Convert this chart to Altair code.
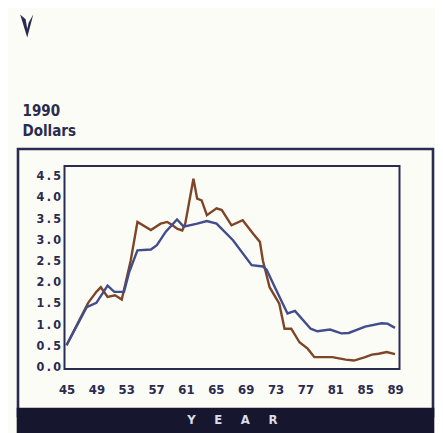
import altair as alt
import pandas as pd

# ---- data ----
brown_years = [45.0, 47.9, 49.0, 49.6, 50.5, 51.5, 52.4, 53.6, 54.5, 56.3, 57.6, 58.5, 59.2, 59.8,
               60.5, 60.9, 62.0, 62.5, 63.1, 63.8, 65.1, 65.8, 67.1, 68.6, 70.0, 70.9, 71.3, 72.2,
               73.5, 74.2, 75.1, 76.2, 77.3, 78.2, 80.6, 82.4, 83.5, 85.0, 85.9, 86.8, 87.9, 89.0]
brown_values = [0.50, 1.50, 1.76, 1.87, 1.64, 1.68, 1.58, 2.50, 3.41, 3.22, 3.37, 3.41, 3.33, 3.25,
                3.21, 3.37, 4.43, 3.96, 3.92, 3.57, 3.73, 3.69, 3.33, 3.45, 3.13, 2.94, 2.50, 1.87,
                1.48, 0.89, 0.89, 0.57, 0.42, 0.22, 0.22, 0.16, 0.14, 0.22, 0.28, 0.30, 0.34, 0.29]

blue_years = [45.0, 47.7, 49.0, 50.5, 51.4, 52.7, 53.4, 54.5, 56.3, 57.1, 58.3, 59.8, 60.7, 62.5,
              63.8, 65.1, 67.3, 69.8, 71.3, 71.8, 73.1, 74.6, 75.6, 77.7, 78.6, 80.3, 81.8, 82.8,
              85.0, 87.2, 88.0, 89.0]
blue_values = [0.50, 1.40, 1.50, 1.91, 1.76, 1.76, 2.23, 2.74, 2.76, 2.86, 3.18, 3.47, 3.30, 3.37,
               3.43, 3.37, 2.98, 2.39, 2.36, 2.28, 1.80, 1.25, 1.31, 0.89, 0.83, 0.87, 0.78, 0.79,
               0.94, 1.02, 1.01, 0.91]

x_ticks = [45, 49, 53, 57, 61, 65, 69, 73, 77, 81, 85, 89]
y_ticks = [0.0, 0.5, 1.0, 1.5, 2.0, 2.5, 3.0, 3.5, 4.0, 4.5]

series_names = ["brown", "blue"]
series_colors = ["#7e4529", "#414d8c"]

rows = [{"year": y, "value": v, "series": "brown", "ord": i} for i, (y, v) in enumerate(zip(brown_years, brown_values))]
rows += [{"year": y, "value": v, "series": "blue", "ord": i} for i, (y, v) in enumerate(zip(blue_years, blue_values))]
df = pd.DataFrame(rows)

NAVY = "#2a2b50"
one = pd.DataFrame({"a": [0]})

xscale = alt.Scale(domain=[44.73, 89.6], nice=False, zero=False)
yscale = alt.Scale(domain=[-0.06, 4.73], nice=False, zero=False)

lines = alt.Chart(df).mark_line(strokeWidth=2.4, clip=True).encode(
    x=alt.X("year:Q", scale=xscale,
            axis=alt.Axis(values=x_ticks, title=None, grid=False, domain=False, ticks=False,
                          labelFont="DejaVu Sans Condensed", labelFontWeight="bold",
                          labelFontSize=13, labelColor=NAVY, labelPadding=14.5,
                          labelFlush=False, labelOverlap=False)),
    y=alt.Y("value:Q", scale=yscale,
            axis=alt.Axis(values=y_ticks, title=None, grid=False, domain=False, ticks=False,
                          labelExpr="replace(format(datum.value, '.1f'), '.', '\u2009.\u2009')",
                          labelFont="DejaVu Sans Condensed", labelFontWeight="bold",
                          labelFontSize=12.5, labelColor=NAVY, labelPadding=4,
                          labelOverlap=False, labelFlush=False)),
    color=alt.Color("series:N", scale=alt.Scale(domain=series_names, range=series_colors), legend=None),
    order="ord:Q",
    detail="series:N",
)

frame = alt.Chart(one).mark_rect(fill=None, stroke=NAVY, strokeWidth=2.6).encode(
    x=alt.value(-46.5), x2=alt.value(368.5), y=alt.value(-17), y2=alt.value(250)
)
band = alt.Chart(one).mark_rect(fill="#16162f").encode(
    x=alt.value(-47.8), x2=alt.value(369.8), y=alt.value(241.7), y2=alt.value(270)
)
SP = "\u00a0\u00a0\u00a0\u00a0\u2009"
band_text = alt.Chart(one).mark_text(
    text=SP.join("YEAR"), font="DejaVu Sans Condensed", fontWeight="bold", fontSize=13,
    color="#dcdce6", align="center", baseline="middle"
).encode(x=alt.value(167.8), y=alt.value(254))

t1990 = alt.Chart(one).mark_text(
    text="1990", font="DejaVu Sans Condensed", fontWeight="bold", fontSize=15,
    color=NAVY, align="left", baseline="middle"
).encode(x=alt.value(-42), y=alt.value(-55))
tdollars = alt.Chart(one).mark_text(
    text="Dollars", font="DejaVu Sans Condensed", fontWeight="bold", fontSize=15,
    color=NAVY, align="left", baseline="middle"
).encode(x=alt.value(-42), y=alt.value(-35))

logo = alt.Chart(one).mark_point(
    shape="M -0.6 -1 L 0.02 1 L 0.55 -1 L 0.15 -0.3 L 0.02 0.25 L -0.12 -0.6 Z",
    filled=True, fill=NAVY, stroke=None, size=520, opacity=1
).encode(x=alt.value(-37.5), y=alt.value(-140))

chart = alt.layer(frame, band, band_text, t1990, tdollars, logo, lines).properties(
    width=335, height=203,
    padding={"left": 56.5, "top": 158, "right": 35.5, "bottom": 64},
    autosize=alt.AutoSizeParams(type="none"),
    background="#fcfcf6",
).configure_view(stroke=NAVY, strokeWidth=2)

chart.save("out.html", embed_options={"renderer": "svg", "actions": False})
